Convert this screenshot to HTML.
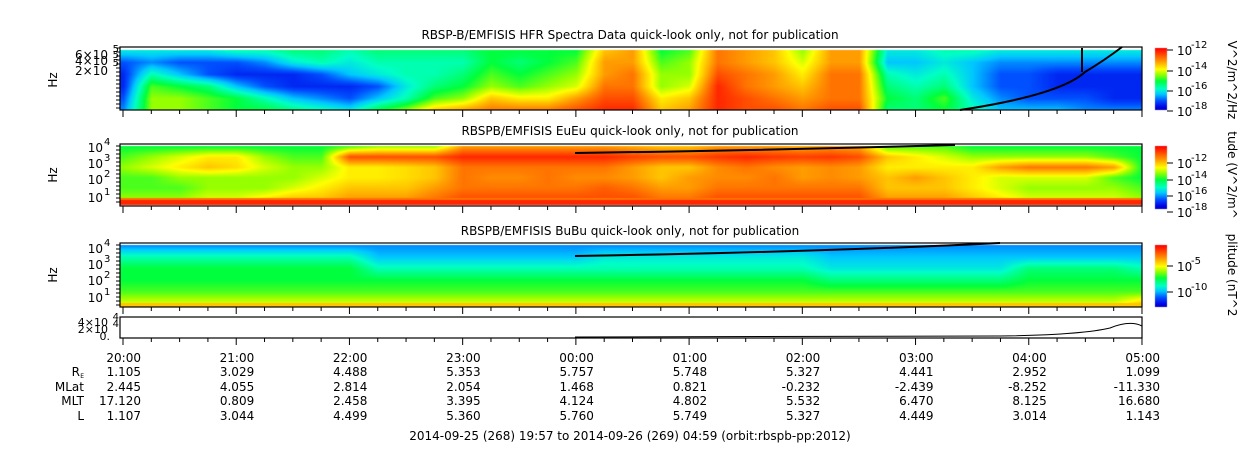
<!DOCTYPE html>
<html><head><meta charset="utf-8">
<style>
html,body{margin:0;padding:0;background:#fff;width:1250px;height:449px;overflow:hidden;}
#wrap{position:relative;width:1250px;height:449px;}
canvas,svg{position:absolute;left:0;top:0;}
svg text{font-family:"DejaVu Sans","Liberation Sans",sans-serif;font-size:12px;fill:#000;}
</style></head>
<body>
<div id="wrap">
<canvas id="cv" width="1250" height="449"></canvas>
<svg id="sv" width="1250" height="449"></svg>
</div>
<script>
// ---- data ----
const hourLabels = ["20:00","21:00","22:00","23:00","00:00","01:00","02:00","03:00","04:00","05:00"];
const reVals   = ["1.105","3.029","4.488","5.353","5.757","5.748","5.327","4.441","2.952","1.099"];
const mlatVals = ["2.445","4.055","2.814","2.054","1.468","0.821","-0.232","-2.439","-8.252","-11.330"];
const mltVals  = ["17.120","0.809","2.458","3.395","4.124","4.802","5.532","6.470","8.125","16.680"];
const lVals    = ["1.107","3.044","4.499","5.360","5.760","5.749","5.327","4.449","3.014","1.143"];
// column times in hours since 20:00 (every 15 minutes)
const colHours = [];
for (let i = 0; i <= 36; i++) colHours.push(i * 0.25);
// panel 1 HFR levels (0..1, top->bottom)
const hfrLevels = [
[.35,.2,.15,.15,.2,.25],[.35,.25,.4,.55,.6,.6],[.35,.2,.3,.5,.6,.6],[.35,.2,.2,.45,.55,.55],
[.4,.2,.15,.3,.5,.5],[.4,.25,.15,.2,.4,.5],[.45,.35,.15,.15,.3,.45],[.45,.4,.2,.15,.25,.4],
[.4,.35,.3,.15,.2,.35],[.45,.4,.35,.2,.3,.5],[.45,.4,.4,.35,.4,.6],[.45,.4,.4,.45,.55,.75],
[.45,.4,.45,.5,.6,.8],[.5,.5,.55,.6,.75,.85],[.5,.45,.5,.55,.7,.85],[.5,.5,.55,.6,.7,.85],
[.5,.55,.6,.65,.8,.9],[.75,.8,.8,.85,.9,.95],[.8,.8,.85,.85,.9,.95],[.5,.55,.6,.6,.7,.75],
[.55,.6,.6,.65,.75,.8],[.85,.85,.9,.95,.95,.95],[.8,.8,.85,.85,.9,.9],[.75,.75,.8,.8,.85,.9],
[.6,.65,.7,.75,.8,.85],[.8,.8,.85,.85,.85,.9],[.8,.8,.85,.85,.85,.9],[.35,.3,.4,.45,.5,.45],
[.35,.3,.35,.4,.45,.45],[.4,.35,.4,.45,.55,.5],[.4,.3,.3,.3,.35,.4],[.35,.25,.2,.2,.25,.3],
[.35,.25,.2,.2,.2,.3],[.35,.25,.15,.15,.2,.3],[.35,.25,.15,.15,.2,.25],[.35,.25,.15,.15,.15,.25],
[.35,.25,.15,.15,.15,.25]];
// panel 2 EuEu levels
const euLevels = [
[.5,.55,.6,.55,.55,.6],[.5,.6,.65,.55,.55,.6],[.5,.65,.7,.6,.55,.6],[.5,.7,.75,.6,.6,.65],
[.5,.7,.72,.6,.6,.65],[.5,.6,.65,.6,.6,.7],[.5,.55,.6,.6,.65,.75],[.5,.55,.6,.65,.7,.75],
[.55,.9,.7,.7,.75,.8],[.6,.9,.7,.7,.75,.8],[.6,.9,.72,.72,.75,.8],[.6,.9,.75,.75,.8,.85],
[.8,.95,.85,.85,.85,.9],[.8,.95,.85,.82,.85,.9],[.8,.95,.85,.82,.85,.9],[.8,.95,.85,.85,.85,.9],
[.8,.95,.85,.82,.85,.9],[.8,.95,.85,.82,.88,.9],[.78,.92,.8,.8,.85,.9],[.75,.9,.75,.75,.8,.85],
[.75,.9,.75,.8,.8,.85],[.8,.93,.82,.82,.85,.9],[.8,.95,.85,.82,.85,.9],[.8,.93,.82,.85,.85,.9],
[.78,.92,.8,.8,.85,.9],[.8,.93,.82,.82,.85,.9],[.78,.9,.8,.8,.85,.9],[.55,.75,.7,.75,.75,.8],
[.55,.7,.7,.8,.75,.8],[.55,.65,.7,.75,.75,.8],[.5,.6,.7,.7,.7,.75],[.5,.6,.8,.65,.65,.7],
[.5,.6,.85,.65,.6,.65],[.5,.6,.85,.65,.6,.65],[.5,.6,.85,.65,.6,.65],[.5,.55,.8,.55,.6,.65],
[.5,.5,.5,.5,.55,.6]];
// panel 3 BuBu levels
const buLevels = [];
for (let i = 0; i <= 36; i++) {
  if (i <= 8) buLevels.push([.25,.4,.5,.5,.55,.65]);
  else if (i <= 16) buLevels.push([.25,.3,.4,.5,.55,.65]);
  else if (i <= 24) buLevels.push([.25,.35,.4,.5,.55,.65]);
  else if (i <= 31) buLevels.push([.25,.3,.35,.45,.55,.65]);
  else if (i <= 35) buLevels.push([.25,.3,.45,.5,.55,.65]);
  else buLevels.push([.25,.3,.4,.5,.55,.75]);
}
// ---- axes ----
const X0 = 123, HPX = 113.22, LEFT = 120, RIGHT = 1142;
const xOf = h => X0 + h * HPX;
const cmapStops = [[0,0,0,130],[0.1,0,0,230],[0.2,0,80,255],[0.3,0,200,255],[0.38,0,255,200],[0.5,0,255,60],[0.6,150,255,0],[0.68,255,255,0],[0.82,255,140,0],[1,255,0,0]];
function jet(v){
  v = Math.max(0, Math.min(1, v));
  for (let i = 0; i < cmapStops.length - 1; i++){
    const a = cmapStops[i], b = cmapStops[i+1];
    if (v <= b[0]){ const t = (v - a[0]) / (b[0] - a[0]);
      return [a[1]+(b[1]-a[1])*t|0, a[2]+(b[2]-a[2])*t|0, a[3]+(b[3]-a[3])*t|0]; }
  }
  return [255,0,0];
}
const cv = document.getElementById('cv');
const ctx = cv.getContext('2d');
const img = ctx.createImageData(1250, 449);
for (let i = 0; i < img.data.length; i++) img.data[i] = 255;
function px(x,y,c){const k=(y*1250+x)*4;img.data[k]=c[0];img.data[k+1]=c[1];img.data[k+2]=c[2];img.data[k+3]=255;}
function drawHeat(levels, top, bot){
  const n = levels[0].length;
  for (let x = LEFT; x < RIGHT; x++){
    const h = (x - X0) / HPX;
    let i = Math.floor(h / 0.25); if (i < 0) i = 0; if (i > colHours.length - 2) i = colHours.length - 2;
    let t = (h - colHours[i]) / (colHours[i+1] - colHours[i]); t = Math.max(0, Math.min(1, t));
    for (let y = top; y < bot; y++){
      const fy = (y - top) / (bot - top) * (n - 1);
      let j = Math.floor(fy); if (j > n - 2) j = n - 2;
      const u = fy - j;
      const a = levels[i][j]*(1-u) + levels[i][j+1]*u;
      const b = levels[i+1][j]*(1-u) + levels[i+1][j+1]*u;
      px(x, y, jet(a*(1-t) + b*t));
    }
  }
}
drawHeat(hfrLevels, 50, 110);
drawHeat(euLevels, 146, 198);
for (let x = LEFT; x < RIGHT; x++){ for (let y = 198; y < 205; y++) px(x,y,jet(y<200?.85:.95)); }
drawHeat(buLevels, 245, 303);
for (let x = LEFT; x < RIGHT; x++){ for (let y = 303; y < 307; y++) px(x,y,jet(.75)); }
// colorbars
function cbar(top, bot){ for (let y = top; y < bot; y++){ const v = 1 - (y-top)/(bot-top); for (let x = 1155; x < 1167; x++) px(x,y,jet(0.05+0.95*v)); } }
cbar(48,110); cbar(146,209); cbar(245,307);
ctx.putImageData(img, 0, 0);

// ---- SVG overlay ----
const NS = 'http://www.w3.org/2000/svg';
const sv = document.getElementById('sv');
function el(tag, attrs, parent){ const e = document.createElementNS(NS, tag); for (const k in attrs) e.setAttribute(k, attrs[k]); (parent||sv).appendChild(e); return e; }
function txt(x,y,s,anchor,parent,size){ const t = el('text',{x:x,y:y,'text-anchor':anchor||'start'},parent); if(size) t.setAttribute('style','font-size:'+size+'px'); t.innerHTML = s; return t; }

const titles = [["RBSP-B/EMFISIS  HFR Spectra Data quick-look only, not for publication",39],["RBSPB/EMFISIS  EuEu quick-look only, not for publication",135],["RBSPB/EMFISIS  BuBu quick-look only, not for publication",235]];
titles.forEach((tt,k)=>{ const t = txt(630, tt[1], tt[0], 'middle'); t.setAttribute('xml:space','preserve');
  
   });

const panels = [[47,110],[144,206],[243,307],[317,338]];
panels.forEach((p,k)=>{
  const g = el('g',{});
  
  
  el('rect',{x:LEFT,y:p[0],width:RIGHT-LEFT,height:p[1]-p[0],fill:'none',stroke:'#000','stroke-width':1.2},g);
  for (let q = 0; q <= 36; q++){
    const x = xOf(q*0.25); const major = q % 4 === 0;
    el('line',{x1:x,x2:x,y1:p[1],y2:p[1]+(major?7:4),stroke:'#000','stroke-width':1},g);
  }
});
// y axis labels
const ya = el('g',{});


[["6×10",55],["4×10",61],["2×10",71]].forEach(a=>{ txt(108,a[1]+4,a[0],'end',ya); });
txt(119,52,"5",'end',ya,10); txt(119,58,"5",'end',ya,10); txt(119,66,"5",'end',ya,10);
[[146,"4"],[162,"3"],[178,"2"],[196,"1"]].forEach(a=>{ txt(103,a[0]+6,"10",'end',ya); txt(104,a[0]-1,a[1],'start',ya,10); });
[[247,"4"],[263,"3"],[279,"2"],[296,"1"]].forEach(a=>{ txt(103,a[0]+6,"10",'end',ya); txt(104,a[0]-1,a[1],'start',ya,10); });
txt(108,326,"4×10",'end',ya,11); txt(119,320,"4",'end',ya,10); txt(108,333,"2×10",'end',ya,11); txt(119,327,"4",'end',ya,10); txt(110,340,"0.",'end',ya,11);
[80,175,275].forEach(y=>{ const t = txt(0,0,"Hz",'middle',ya); t.setAttribute('transform','translate(57,'+y+') rotate(-90)'); });
[[48,110],[146,205],[245,306]].forEach(p=>{ for(let y=p[0];y<=p[1];y+=4){ el('line',{x1:LEFT-4,x2:LEFT,y1:y,y2:y,stroke:'#000'},ya);} });
// black model lines
const lines = el('g',{fill:'none',stroke:'#000','stroke-width':2});


el('path',{d:'M960 110 Q1060 95 1085 72 Q1105 60 1122 47'},lines);
el('path',{d:'M1082 48 L1082 72'},lines);
el('path',{d:'M575 153 Q780 150 955 145'},lines);
el('path',{d:'M575 256 Q820 252 1000 243'},lines);
el('path',{d:'M575 337 L1000 336 Q1080 335 1110 328 Q1130 320 1142 326','stroke-width':1},lines);
// colorbar labels
const cb = el('g',{});


function cl(y,e){ txt(1177,y+5,"10",'start',cb); txt(1191,y-2,e,'start',cb,10); el('line',{x1:1167,x2:1173,y1:y,y2:y,stroke:'#000'},cb); }
cl(50,"-12"); cl(71,"-14"); cl(91,"-16"); cl(111,"-18");
cl(163,"-12"); cl(180,"-14"); cl(196,"-16"); cl(212,"-18");
cl(266,"-5"); cl(292,"-10");
[[1228,80,"V^2/m^2/Hz"],[1228,175,"tude (V^2/m^"],[1228,275,"plitude (nT^2"]].forEach(a=>{
  const t = txt(0,0,a[2],'middle',cb); t.setAttribute('transform','translate('+a[0]+','+a[1]+') rotate(90)'); });
// bottom table
const tb = el('g',{});


const rows = [[362,hourLabels],[376,reVals],[391,mlatVals],[405,mltVals],[420,lVals]];
rows.forEach(r=>{ r[1].forEach((s,i)=>{ txt(xOf(i)+18,r[0],s,'end',tb); }); });
txt(80,376,"R",'end',tb); txt(84,378,"E",'end',tb,6);
txt(84,391,"MLat",'end',tb); txt(84,405,"MLT",'end',tb); txt(84,420,"L",'end',tb);
const ft = txt(630,440,"2014-09-25 (268) 19:57 to 2014-09-26 (269) 04:59 (orbit:rbspb-pp:2012)",'middle',tb);


</script>
</body></html>
